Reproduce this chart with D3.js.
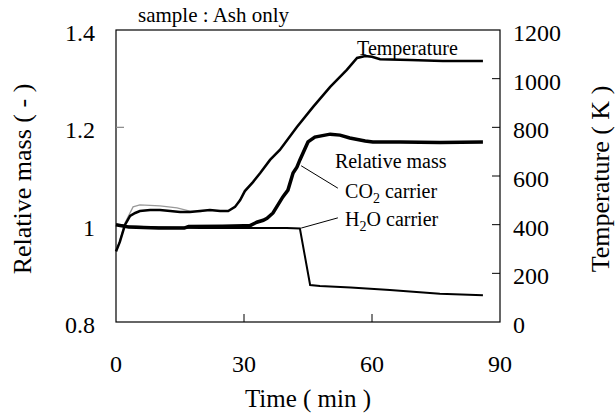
<!DOCTYPE html>
<html>
<head>
<meta charset="utf-8">
<script src="https://cdn.jsdelivr.net/npm/d3@7"></script>
<style>
  body { margin: 0; background: #fff; }
  svg text { font-family: "Liberation Serif", "Times New Roman", serif; fill: #000; }
</style>
</head>
<body>
<svg id="chart"></svg>
<script>
// Temperature (K), black trace
const tempTime = [0, 0.9, 2.1, 3.3, 4.5, 5.6, 8.0, 10.3, 12.7, 15.0, 17.3, 19.7, 22.0, 24.4, 26.3, 27.9, 29.1, 30.2, 32.1, 33.8, 36.1, 38.4, 42.4, 46.2, 50.2, 54.1, 56.5, 58.4, 60.0, 61.9, 68.9, 76.6, 86.0];
const tempK    = [290, 329, 399, 436, 448, 456, 460, 460, 456, 452, 452, 456, 460, 456, 456, 473, 501, 538, 575, 612, 666, 707, 801, 884, 966, 1036, 1085, 1093, 1090, 1080, 1077, 1073, 1073];
// Temperature (K), grey trace (only where it separates from the black one)
const tempGrayTime = [0, 0.9, 2.1, 4.0, 5.6, 10.3, 14.3, 17.3, 20.0];
const tempGrayK    = [290, 335, 407, 473, 481, 477, 469, 456, 454];
// Relative mass, CO2 carrier
const co2Time = [0, 3, 10, 16, 17, 25, 30, 31.4, 33.0, 34.5, 35.4, 36.8, 39.1, 40.3, 41.5, 42.4, 43.1, 45.0, 46.6, 50.2, 52.5, 54.8, 58.4, 60.2, 66.6, 75.9, 86.0];
const co2Mass = [1.0, 0.995, 0.993, 0.993, 0.996, 0.997, 0.998, 0.998, 1.005, 1.009, 1.013, 1.024, 1.057, 1.071, 1.106, 1.118, 1.133, 1.170, 1.180, 1.186, 1.184, 1.178, 1.172, 1.170, 1.170, 1.169, 1.170];
// Relative mass, H2O carrier
const h2oTime = [0, 3, 10, 20, 30, 40, 43.1, 45.5, 47.8, 55, 64.2, 75.9, 86.0];
const h2oMass = [1.0, 0.996, 0.994, 0.993, 0.993, 0.993, 0.992, 0.876, 0.874, 0.871, 0.866, 0.858, 0.855];

const timeTicks = [0, 30, 60, 90];
const massTicks = [0.8, 1, 1.2, 1.4];
const tempTicks = [0, 200, 400, 600, 800, 1000, 1200];

const W = 615, H = 417;
const margin = { top: 30, right: 115, bottom: 95, left: 116 };
const width = W - margin.left - margin.right;
const height = H - margin.top - margin.bottom;

const svg = d3.select("#chart").attr("width", W).attr("height", H);
const g = svg.append("g").attr("transform", `translate(${margin.left},${margin.top})`);

const x = d3.scaleLinear().domain([0, 90]).range([0, width]);
const yM = d3.scaleLinear().domain([0.8, 1.4]).range([height, 0]);
const yT = d3.scaleLinear().domain([0, 1200]).range([height, 0]);

// frame
g.append("rect").attr("width", width).attr("height", height)
  .attr("fill", "none").attr("stroke", "#000").attr("stroke-width", 1.2);

// inward ticks
const tickLen = 8;
g.selectAll(".lt").data(massTicks.slice(1, -1)).enter().append("line")
  .attr("x1", 0).attr("x2", tickLen).attr("y1", d => yM(d)).attr("y2", d => yM(d))
  .attr("stroke", "#888").attr("stroke-width", 1.2);
g.selectAll(".rt").data(tempTicks.slice(1, -1)).enter().append("line")
  .attr("x1", width - tickLen).attr("x2", width).attr("y1", d => yT(d)).attr("y2", d => yT(d))
  .attr("stroke", "#000").attr("stroke-width", 1);
g.selectAll(".bt").data(timeTicks.slice(1, -1)).enter().append("line")
  .attr("x1", d => x(d)).attr("x2", d => x(d)).attr("y1", height - tickLen).attr("y2", height)
  .attr("stroke", "#000").attr("stroke-width", 1);

// tick labels
g.selectAll(".ll").data(massTicks).enter().append("text")
  .attr("x", -21).attr("y", d => yM(d) + 11).attr("text-anchor", "end")
  .style("font-size", "24px").text(d => d);
g.selectAll(".rl").data(tempTicks).enter().append("text")
  .attr("x", width + 13).attr("y", d => yT(d) + 11).attr("text-anchor", "start")
  .style("font-size", "24px").text(d => d);
g.selectAll(".bl").data(timeTicks).enter().append("text")
  .attr("x", d => x(d)).attr("y", height + 50).attr("text-anchor", "middle")
  .style("font-size", "24px").text(d => d);

// axis titles
svg.append("text").attr("transform", `translate(31,${margin.top + height / 2 + 3}) rotate(-90)`)
  .attr("text-anchor", "middle").style("font-size", "26px").text("Relative mass ( - )");
svg.append("text").attr("transform", `translate(609,${margin.top + height / 2 + 3}) rotate(-90)`)
  .attr("text-anchor", "middle").style("font-size", "26px").text("Temperature ( K )");
svg.append("text").attr("x", margin.left + width / 2).attr("y", 407)
  .attr("text-anchor", "middle").style("font-size", "25px").text("Time ( min )");

// curves
const pts = (ts, vs) => ts.map((t, i) => [t, vs[i]]);
const lineT = d3.line().x(d => x(d[0])).y(d => yT(d[1]));
const lineM = d3.line().x(d => x(d[0])).y(d => yM(d[1]));

g.append("path").datum(pts(tempGrayTime, tempGrayK)).attr("d", lineT)
  .attr("fill", "none").attr("stroke", "#999").attr("stroke-width", 1.3);
g.append("path").datum(pts(h2oTime, h2oMass)).attr("d", lineM)
  .attr("fill", "none").attr("stroke", "#000").attr("stroke-width", 2);
g.append("path").datum(pts(co2Time, co2Mass)).attr("d", lineM)
  .attr("fill", "none").attr("stroke", "#000").attr("stroke-width", 3.5);
g.append("path").datum(pts(tempTime, tempK)).attr("d", lineT)
  .attr("fill", "none").attr("stroke", "#000").attr("stroke-width", 2.5);

// annotations
svg.append("text").attr("x", 138).attr("y", 22).style("font-size", "21px").text("sample : Ash only");
g.append("text").attr("x", x(56.5)).attr("y", yT(1097)).style("font-size", "20px").text("Temperature");
g.append("text").attr("x", x(51.3)).attr("y", yM(1.116)).style("font-size", "20px").text("Relative mass");

const co2Label = g.append("text").attr("x", x(53.7)).attr("y", yM(1.055)).style("font-size", "20px");
co2Label.append("tspan").text("CO");
co2Label.append("tspan").attr("dy", 5).style("font-size", "14px").text("2");
co2Label.append("tspan").attr("dy", -5).text(" carrier");

const h2oLabel = g.append("text").attr("x", x(53.7)).attr("y", yM(0.997)).style("font-size", "20px");
h2oLabel.append("tspan").text("H");
h2oLabel.append("tspan").attr("dy", 5).style("font-size", "14px").text("2");
h2oLabel.append("tspan").attr("dy", -5).text("O carrier");

// leader lines
g.append("line").attr("x1", x(43.4)).attr("y1", yM(1.121)).attr("x2", x(52.0)).attr("y2", yM(1.075))
  .attr("stroke", "#000").attr("stroke-width", 1);
g.append("line").attr("x1", x(43.4)).attr("y1", yM(0.993)).attr("x2", x(52.0)).attr("y2", yM(1.014))
  .attr("stroke", "#000").attr("stroke-width", 1);
</script>
</body>
</html>
